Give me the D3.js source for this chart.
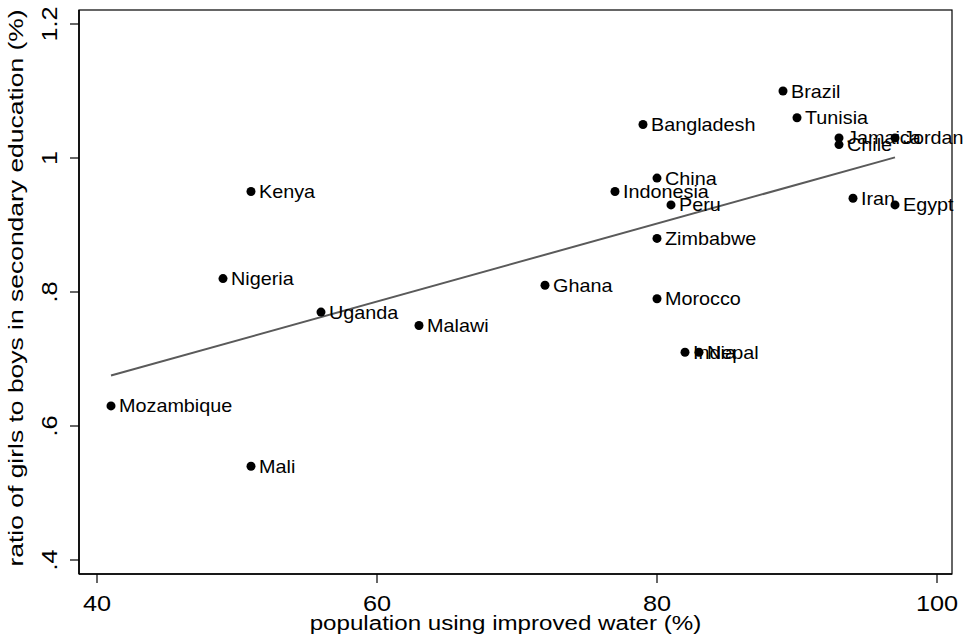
<!DOCTYPE html>
<html>
<head>
<meta charset="utf-8">
<script src="https://cdn.jsdelivr.net/npm/d3@7/dist/d3.min.js"></script>
<style>
  html, body { margin: 0; padding: 0; background: #fff; }
  svg { display: block; font-family: "Liberation Sans", Arial, Helvetica, sans-serif; }
</style>
</head>
<body>
<svg id="chart" width="967" height="643"></svg>
<script>
// Countries: access to improved water vs. girls-to-boys secondary school ratio
const countries = ["Brazil", "Tunisia", "Jamaica", "Chile", "Jordan", "Iran", "Egypt",
  "Bangladesh", "China", "Indonesia", "Peru", "Zimbabwe", "Ghana", "Morocco",
  "India", "Nepal", "Kenya", "Nigeria", "Uganda", "Malawi", "Mozambique", "Mali"];
const water = [89, 90, 93, 93, 97, 94, 97,
  79, 80, 77, 81, 80, 72, 80,
  82, 83, 51, 49, 56, 63, 41, 51];
const ratio = [1.10, 1.06, 1.03, 1.02, 1.03, 0.94, 0.93,
  1.05, 0.97, 0.95, 0.93, 0.88, 0.81, 0.79,
  0.71, 0.71, 0.95, 0.82, 0.77, 0.75, 0.63, 0.54];
const xTicks = [40, 60, 80, 100];
const yTicks = [0.4, 0.6, 0.8, 1.0, 1.2];
const yTickLabels = [".4", ".6", ".8", "1", "1.2"];
const xTitle = "population using improved water (%)";
const yTitle = "ratio of girls to boys in secondary education (%)";

const svg = d3.select("#chart");
const plot = { left: 79, right: 952, top: 10, bottom: 574 };

const x = d3.scaleLinear().domain([40, 100]).range([97, 937]);
const y = d3.scaleLinear().domain([0.4, 1.2]).range([560, 24]);

const TEXT_STRETCH = 1.15;
const LABEL_STRETCH = 1.1;
const YTITLE_STRETCH = 1.26;

// Ordinary least squares fit of ratio on water
const mx = d3.mean(water), my = d3.mean(ratio);
let sxy = 0, sxx = 0;
water.forEach((w, i) => { sxy += (w - mx) * (ratio[i] - my); sxx += (w - mx) * (w - mx); });
const slope = sxy / sxx;
const intercept = my - slope * mx;
const fitX = d3.extent(water);

// Frame
svg.append("rect")
  .attr("x", plot.left).attr("y", plot.top)
  .attr("width", plot.right - plot.left).attr("height", plot.bottom - plot.top)
  .attr("fill", "none").attr("stroke", "#000").attr("stroke-width", 1.2);

// X axis
const xAxis = svg.append("g");
xAxis.append("line")
  .attr("x1", plot.left).attr("x2", plot.right)
  .attr("y1", plot.bottom).attr("y2", plot.bottom)
  .attr("stroke", "#000").attr("stroke-width", 1.6);
xTicks.forEach(t => {
  xAxis.append("line")
    .attr("x1", x(t)).attr("x2", x(t))
    .attr("y1", plot.bottom).attr("y2", plot.bottom + 9)
    .attr("stroke", "#000").attr("stroke-width", 1.2);
  xAxis.append("text")
    .attr("transform", `translate(${x(t)},611) scale(${TEXT_STRETCH},1)`)
    .attr("text-anchor", "middle")
    .attr("font-size", 22)
    .attr("fill", "#000")
    .text(t);
});
svg.append("text")
  .attr("transform", `translate(${(plot.left + plot.right) / 2 - 10},630) scale(${TEXT_STRETCH},1)`)
  .attr("text-anchor", "middle")
  .attr("font-size", 21)
  .attr("fill", "#000")
  .text(xTitle);

// Y axis
const yAxis = svg.append("g");
yAxis.append("line")
  .attr("x1", plot.left).attr("x2", plot.left)
  .attr("y1", plot.top).attr("y2", plot.bottom)
  .attr("stroke", "#000").attr("stroke-width", 1.6);
yTicks.forEach((t, i) => {
  yAxis.append("line")
    .attr("x1", plot.left - 9).attr("x2", plot.left)
    .attr("y1", y(t)).attr("y2", y(t))
    .attr("stroke", "#000").attr("stroke-width", 1.2);
  yAxis.append("text")
    .attr("transform", `translate(57,${y(t)}) rotate(-90) scale(${TEXT_STRETCH},1)`)
    .attr("text-anchor", "middle")
    .attr("font-size", 22)
    .attr("fill", "#000")
    .text(yTickLabels[i]);
});
svg.append("text")
  .attr("transform", `translate(23,${(plot.top + plot.bottom) / 2 - 4}) rotate(-90) scale(${YTITLE_STRETCH},1)`)
  .attr("text-anchor", "middle")
  .attr("font-size", 21)
  .attr("fill", "#000")
  .text(yTitle);

// Fitted line
svg.append("line")
  .attr("x1", x(fitX[0])).attr("y1", y(intercept + slope * fitX[0]))
  .attr("x2", x(fitX[1])).attr("y2", y(intercept + slope * fitX[1]))
  .attr("stroke", "#5a5a5a").attr("stroke-width", 2);

// Points and labels
const pts = svg.append("g");
countries.forEach((c, i) => {
  const cx = x(water[i]), cy = y(ratio[i]);
  pts.append("circle")
    .attr("cx", cx).attr("cy", cy).attr("r", 4.5)
    .attr("fill", "#000");
  pts.append("text")
    .attr("transform", `translate(${cx + 8},${cy + 6.5}) scale(${LABEL_STRETCH},1)`)
    .attr("font-size", 18)
    .attr("fill", "#000")
    .text(c);
});
</script>
</body>
</html>
